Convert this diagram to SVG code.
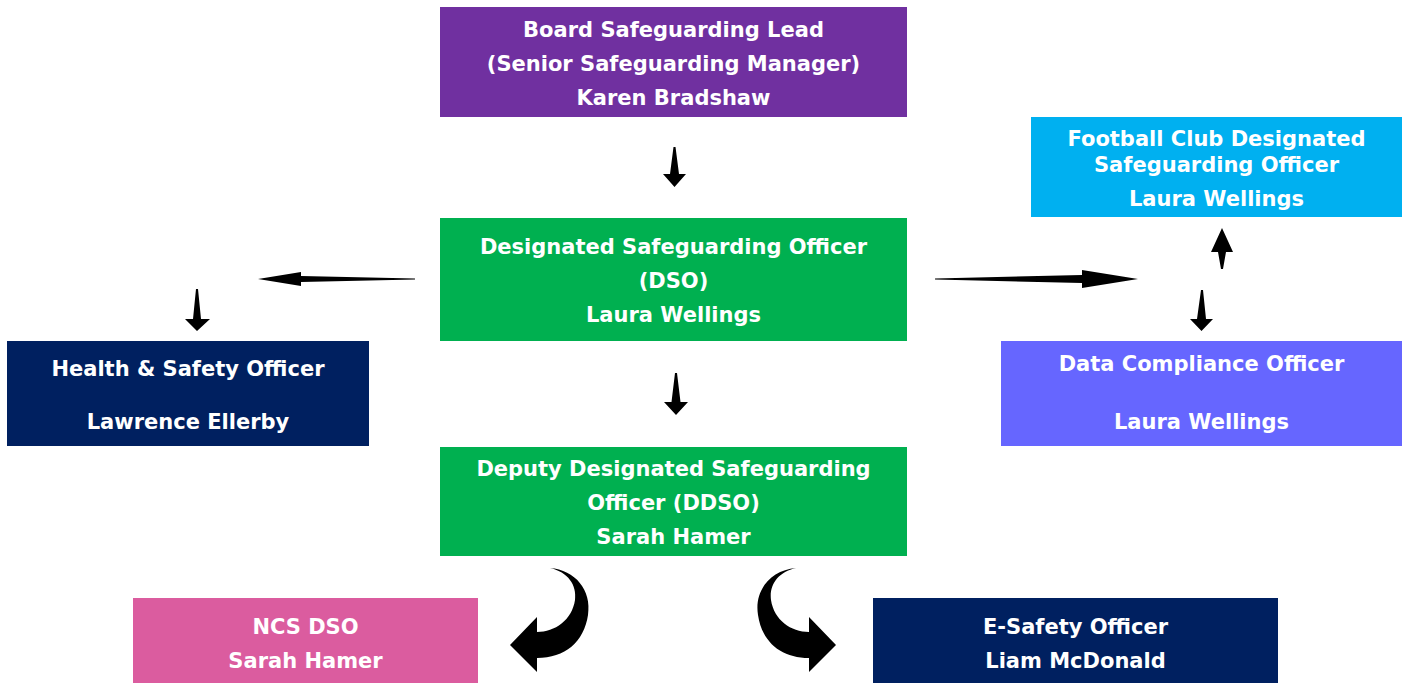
<svg xmlns="http://www.w3.org/2000/svg" width="1407" height="684" viewBox="0 0 1407 684">
<style>
.t{font-family:"DejaVu Sans",Verdana,sans-serif;font-weight:bold;font-size:21px;fill:#fff;text-anchor:middle}
.a{fill:#000}
</style>
<rect width="1407" height="684" fill="#fff"/>
<g id="board"><rect x="440" y="7" width="467" height="110" fill="#7030A0"/>
<text class="t" x="673.5" y="36.5">Board Safeguarding Lead</text>
<text class="t" x="673.5" y="70.5">(Senior Safeguarding Manager)</text>
<text class="t" x="673.5" y="105">Karen Bradshaw</text></g>
<g id="football"><rect x="1031" y="117" width="371" height="100" fill="#00B0F0"/>
<text class="t" x="1216.5" y="146">Football Club Designated</text>
<text class="t" x="1216.5" y="172">Safeguarding Officer</text>
<text class="t" x="1216.5" y="206">Laura Wellings</text></g>
<g id="dso"><rect x="440" y="218" width="467" height="123" fill="#00B050"/>
<text class="t" x="673.5" y="254">Designated Safeguarding Officer</text>
<text class="t" x="673.5" y="288">(DSO)</text>
<text class="t" x="673.5" y="322">Laura Wellings</text></g>
<g id="health"><rect x="7" y="341" width="362" height="105" fill="#002060"/>
<text class="t" x="188" y="376">Health &amp; Safety Officer</text>
<text class="t" x="188" y="429">Lawrence Ellerby</text></g>
<g id="data"><rect x="1001" y="341" width="401" height="105" fill="#6666FF"/>
<text class="t" x="1201.5" y="371">Data Compliance Officer</text>
<text class="t" x="1201.5" y="429">Laura Wellings</text></g>
<g id="ddso"><rect x="440" y="447" width="467" height="109" fill="#00B050"/>
<text class="t" x="673.5" y="476">Deputy Designated Safeguarding</text>
<text class="t" x="673.5" y="510">Officer (DDSO)</text>
<text class="t" x="673.5" y="544">Sarah Hamer</text></g>
<g id="ncs"><rect x="133" y="598" width="345" height="85" fill="#DB5C9F"/>
<text class="t" x="305.5" y="634">NCS DSO</text>
<text class="t" x="305.5" y="668">Sarah Hamer</text></g>
<g id="esafety"><rect x="873" y="598" width="405" height="85" fill="#002060"/>
<text class="t" x="1075.5" y="634">E-Safety Officer</text>
<text class="t" x="1075.5" y="668">Liam McDonald</text></g>
<g id="connectors">
<path class="a" d="M673.5 147 L675.5 147 L679 174 L686 174 L674.5 187 L663 174 L670 174 Z"/>
<path class="a" d="M675 373 L677 373 L680.5 402 L688 402 L676 415 L664 402 L671.5 402 Z"/>
<path class="a" d="M196 289 L198 289 L201 319 L210 319 L197 331 L185 319 L193 319 Z"/>
<path class="a" d="M1201 290 L1203 290 L1206 319 L1213 319 L1201.5 331 L1190 319 L1197 319 Z"/>
<path class="a" d="M1221 269 L1223 269 L1226 252 L1233 252 L1222 228 L1211 252 L1218 252 Z"/>
<path class="a" d="M415 278.5 L301 276 L301 272 L258 279 L301 286 L301 282 L415 279.5 Z"/>
<path class="a" d="M935 278.5 L1082 275 L1082 270 L1138 279 L1082 288 L1082 283 L935 279.5 Z"/>
<path class="a" d="M550 568 C575 570 592 590 588 615 C584 642 565 658 537 658 L537 672 L510 645 L537 617 L537 632 C555 632 572 620 575 600 C577 585 568 572 550 568 Z"/>
<path class="a" d="M550 568 C575 570 592 590 588 615 C584 642 565 658 537 658 L537 672 L510 645 L537 617 L537 632 C555 632 572 620 575 600 C577 585 568 572 550 568 Z" transform="translate(1346 0) scale(-1 1)"/>
</g>
</svg>
